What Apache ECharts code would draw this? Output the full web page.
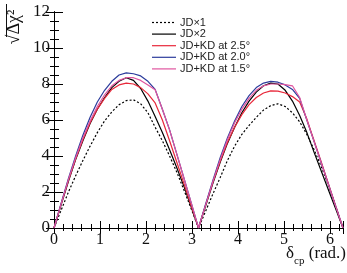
<!DOCTYPE html>
<html><head><meta charset="utf-8">
<script src="https://cdn.jsdelivr.net/npm/echarts@6/dist/echarts.min.js"></script>
<style>html,body{margin:0;padding:0;background:#fff}#c{width:347px;height:273px}</style>
</head><body><div id="c"></div>
<script>
const delta = [0, 0.157, 0.314, 0.471, 0.628, 0.785, 0.942, 1.100, 1.257, 1.414, 1.571, 1.728, 1.885, 2.042, 2.199, 2.356, 2.513, 2.670, 2.827, 2.985, 3.142,
  3.299, 3.456, 3.613, 3.770, 3.927, 4.084, 4.241, 4.398, 4.555, 4.712, 4.869, 5.027, 5.184, 5.341, 5.498, 5.655, 5.812, 5.969, 6.126, 6.283];
const jd1 = [0, 1.0, 2.0, 2.9, 3.75, 4.55, 5.3, 5.95, 6.45, 6.85, 7.08, 7.12, 6.9, 6.4, 5.6, 4.85, 4.0, 3.1, 2.1, 1.05, 0,
  0.95, 1.9, 2.8, 3.75, 4.55, 5.2, 5.7, 6.15, 6.55, 6.8, 6.9, 6.75, 6.4, 5.9, 5.2, 4.35, 3.4, 2.35, 1.2, 0];
const jd2 = [0, 1.3, 2.6, 3.8, 4.85, 5.8, 6.6, 7.25, 7.8, 8.15, 8.35, 8.2, 7.75, 7.05, 6.2, 5.3, 4.35, 3.35, 2.3, 1.15, 0,
  1.25, 2.5, 3.65, 4.7, 5.6, 6.4, 7.05, 7.55, 7.9, 8.05, 8.0, 7.65, 7.05, 6.25, 5.3, 4.2, 3.15, 2.1, 1.05, 0];
const kd25 = [0, 1.35, 2.65, 3.85, 4.9, 5.85, 6.6, 7.2, 7.7, 7.95, 8.05, 8.0, 7.8, 7.45, 6.95, 6.0, 4.85, 3.65, 2.45, 1.2, 0,
  1.3, 2.55, 3.7, 4.75, 5.6, 6.3, 6.85, 7.25, 7.5, 7.62, 7.6, 7.5, 7.3, 7.0, 6.05, 4.85, 3.65, 2.43, 1.2, 0];
const kd20 = [0, 1.4, 2.75, 4.0, 5.15, 6.15, 7.0, 7.65, 8.15, 8.5, 8.62, 8.57, 8.45, 8.15, 7.7, 6.6, 5.45, 4.1, 2.75, 1.38, 0,
  1.35, 2.65, 3.9, 5.0, 5.95, 6.75, 7.35, 7.8, 8.05, 8.15, 8.1, 7.95, 7.7, 7.2, 5.98, 4.8, 3.6, 2.4, 1.2, 0];
const kd15 = [0, 1.35, 2.7, 3.9, 5.0, 5.95, 6.75, 7.4, 7.9, 8.2, 8.35, 8.35, 8.2, 7.95, 7.68, 6.6, 5.45, 4.1, 2.75, 1.38, 0,
  1.3, 2.6, 3.8, 4.9, 5.85, 6.6, 7.2, 7.65, 7.9, 8.0, 8.0, 7.97, 7.9, 7.25, 6.0, 4.8, 3.6, 2.4, 1.2, 0];
const seriesNames = ['JD×1', 'JD×2', 'JD+KD at 2.5°', 'JD+KD at 2.0°', 'JD+KD at 1.5°'];
const xMax = 6.2832, yMax = 12;

const chart = echarts.init(document.getElementById('c'), null, {renderer: 'canvas'});
const gridRect = {left: 54, top: 12, width: 289, height: 216};
const serif = '"Liberation Serif", "Times New Roman", serif';
const axLine = {show: true, lineStyle: {color: '#000', width: 1}};
function xAx(gi, pos, interval, len, labels) {
  return {type: 'value', gridIndex: gi, position: pos, min: 0, max: xMax, interval: interval,
    axisLine: axLine, splitLine: {show: false},
    axisTick: {show: true, inside: true, length: len, lineStyle: {color: '#000', width: 1}},
    axisLabel: labels ? {show: true, margin: 4, fontFamily: serif, fontSize: 16, color: '#111',
      formatter: v => (Math.abs(v - Math.round(v)) < 1e-6 ? String(Math.round(v)) : '')} : {show: false}};
}
function yAx(gi, pos, interval, len, labels) {
  return {type: 'value', gridIndex: gi, position: pos, min: 0, max: yMax, interval: interval,
    axisLine: axLine, splitLine: {show: false},
    axisTick: {show: true, inside: true, length: len, lineStyle: {color: '#000', width: 1}},
    axisLabel: labels ? {show: true, margin: 4, fontFamily: serif, fontSize: 17, color: '#111'} : {show: false}};
}
const colors = ['#000', '#000', '#e8283a', '#2c3c9c', '#e0559f'];
const dashes = [[2, 2], 'solid', 'solid', 'solid', 'solid'];
const vals = [jd1, jd2, kd25, kd20, kd15];
const series = vals.map((arr, i) => ({
  name: seriesNames[i], type: 'line', xAxisIndex: 0, yAxisIndex: 0, symbol: 'none', smooth: false,
  data: delta.map((d, j) => [d, arr[j]]),
  lineStyle: {color: colors[i], width: 1.2, type: dashes[i]},
  itemStyle: {color: colors[i]}, z: i === 0 ? 2 : 3 + i
}));
const legendGraphics = [];
seriesNames.forEach((n, i) => {
  const y = 22.5 + i * 11.6;
  legendGraphics.push({type: 'line', shape: {x1: 152, y1: y, x2: 176, y2: y},
    style: {stroke: colors[i], lineWidth: 1.2, lineDash: i === 0 ? [2, 2] : null}});
  legendGraphics.push({type: 'text', x: 180, y: y,
    style: {text: n, font: '11px "Liberation Sans", Arial, sans-serif', fill: '#222', verticalAlign: 'middle'}});
});
chart.setOption({
  animation: false,
  grid: [0, 1, 2, 3].map(() => Object.assign({}, gridRect)),
  xAxis: [xAx(0, 'bottom', 1, 7, true), xAx(1, 'bottom', 0.2, 4, false), xAx(2, 'top', 1, 6, false), xAx(3, 'top', 0.2, 3, false)],
  yAxis: [yAx(0, 'left', 2, 9, true), yAx(1, 'left', 0.5, 5, false), yAx(2, 'right', 2, 8, false), yAx(3, 'right', 0.5, 4, false)],
  series: series,
  graphic: legendGraphics.concat([
    {type: 'text', x: 14, y: 27, rotation: Math.PI / 2,
      style: {text: '√Δχ²', font: '18px "Liberation Serif", "Times New Roman", serif', fill: '#111', align: 'center', verticalAlign: 'middle'}},
    {type: 'line', shape: {x1: 6.5, y1: 4, x2: 6.5, y2: 37}, style: {stroke: '#111', lineWidth: 1}},
    {type: 'text', x: 346, y: 262,
      style: {text: '{a|δ}{b|cp}{a| (rad.)}', align: 'right', verticalAlign: 'bottom',
        rich: {a: {fontFamily: serif, fontSize: 17, fill: '#111', lineHeight: 18, verticalAlign: 'bottom'},
               b: {fontFamily: serif, fontSize: 11, fill: '#111', lineHeight: 18, verticalAlign: 'bottom', padding: [0, 0, -5, 0]}}}}
  ])
});
</script></body></html>
